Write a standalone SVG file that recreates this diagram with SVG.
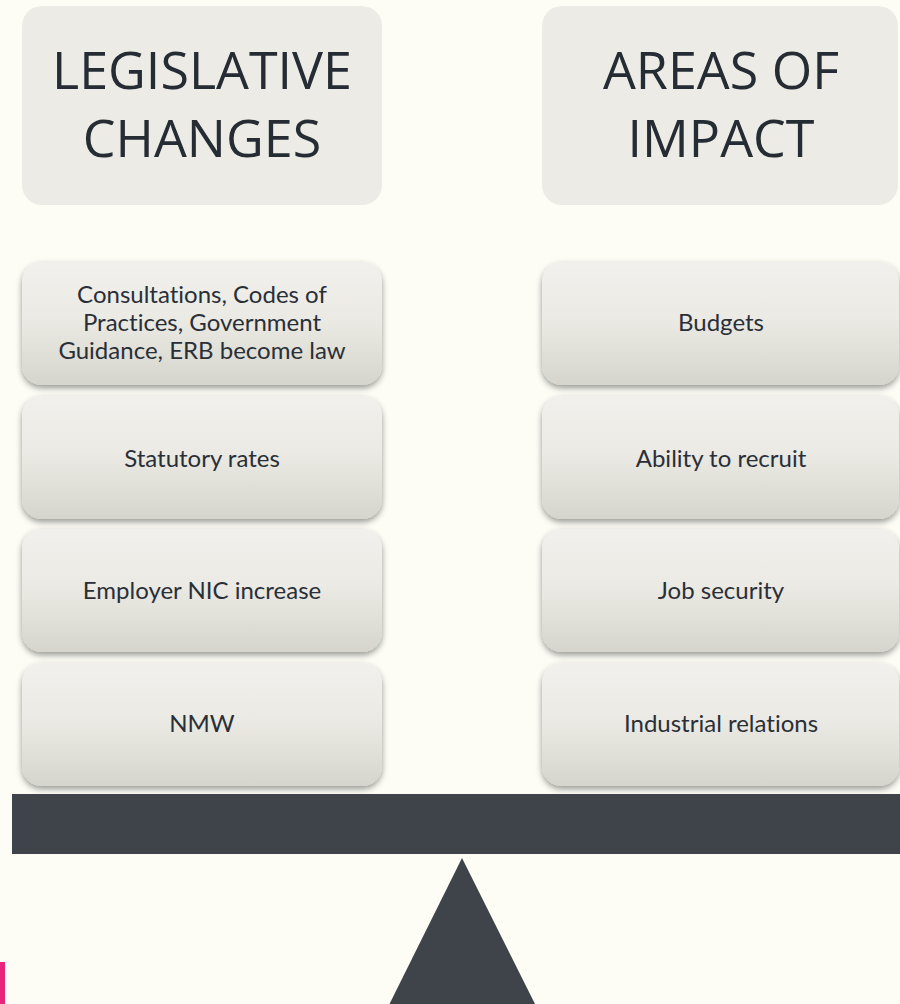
<svg xmlns="http://www.w3.org/2000/svg" width="900" height="1004" viewBox="0 0 900 1004">
  <defs>
    <linearGradient id="cardFill" x1="0" y1="0" x2="0" y2="1">
      <stop offset="0" stop-color="#F1F0EC"/>
      <stop offset="0.45" stop-color="#EBEAE4"/>
      <stop offset="1" stop-color="#D6D5CD"/>
    </linearGradient>
    <filter id="cardShadow" x="-10%" y="-10%" width="120%" height="130%">
      <feDropShadow dx="0" dy="3" stdDeviation="3" flood-color="#000" flood-opacity="0.4"/>
    </filter>
    <style>
      .header rect { fill: #ECEBE5; }
      .header text { font-family: "Open Sans", "Noto Sans", sans-serif; font-size: 52px; fill: #262C34; text-anchor: middle; }
      .card rect { fill: url(#cardFill); filter: url(#cardShadow); }
      .card text { font-family: Lato, "Open Sans", sans-serif; font-size: 24px; fill: #2A2F37; text-anchor: middle; font-variant-ligatures: none; font-feature-settings: "liga" 0, "dlig" 0; }
      .dark { fill: #3F434A; }
    </style>
  </defs>

  <!-- page -->
  <rect width="900" height="1004" fill="#FDFDF6"/>

  <!-- column headings -->
  <g id="header-legislative" class="header">
    <rect x="22" y="6" width="360" height="199" rx="20"/>
    <text x="202" y="89">LEGISLATIVE</text>
    <text x="202" y="157">CHANGES</text>
  </g>
  <g id="header-impact" class="header">
    <rect x="542" y="6" width="356" height="199" rx="20"/>
    <text x="721" y="89">AREAS OF</text>
    <text x="721" y="157">IMPACT</text>
  </g>

  <!-- left pan: legislative changes -->
  <g id="left-consultations" class="card">
    <rect x="22" y="262" width="360" height="123" rx="20"/>
    <text x="202" y="303">Consultations, Codes of</text>
    <text x="202" y="331">Practices, Government</text>
    <text x="202" y="359">Guidance, ERB become law</text>
  </g>
  <g id="left-statutory" class="card">
    <rect x="22" y="396" width="360" height="123" rx="20"/>
    <text x="202" y="467">Statutory rates</text>
  </g>
  <g id="left-nic" class="card">
    <rect x="22" y="529" width="360" height="123" rx="20"/>
    <text x="202" y="599">Employer NIC increase</text>
  </g>
  <g id="left-nmw" class="card">
    <rect x="22" y="663" width="360" height="123" rx="20"/>
    <text x="202" y="732">NMW</text>
  </g>

  <!-- right pan: areas of impact -->
  <g id="right-budgets" class="card">
    <rect x="542" y="262" width="357" height="123" rx="20"/>
    <text x="721" y="331">Budgets</text>
  </g>
  <g id="right-recruit" class="card">
    <rect x="542" y="396" width="357" height="123" rx="20"/>
    <text x="721" y="467">Ability to recruit</text>
  </g>
  <g id="right-security" class="card">
    <rect x="542" y="529" width="357" height="123" rx="20"/>
    <text x="721" y="599">Job security</text>
  </g>
  <g id="right-relations" class="card">
    <rect x="542" y="663" width="357" height="123" rx="20"/>
    <text x="721" y="732">Industrial relations</text>
  </g>

  <!-- balance beam and fulcrum -->
  <g id="beam">
    <rect class="dark" x="12" y="794" width="888" height="60"/>
  </g>
  <g id="fulcrum">
    <polygon class="dark" points="462,858 535,1004 389.5,1004"/>
  </g>

  <!-- accent strip -->
  <rect x="0" y="962" width="5" height="42" fill="#E8257A"/>

  <g id="connectors"/>
</svg>
